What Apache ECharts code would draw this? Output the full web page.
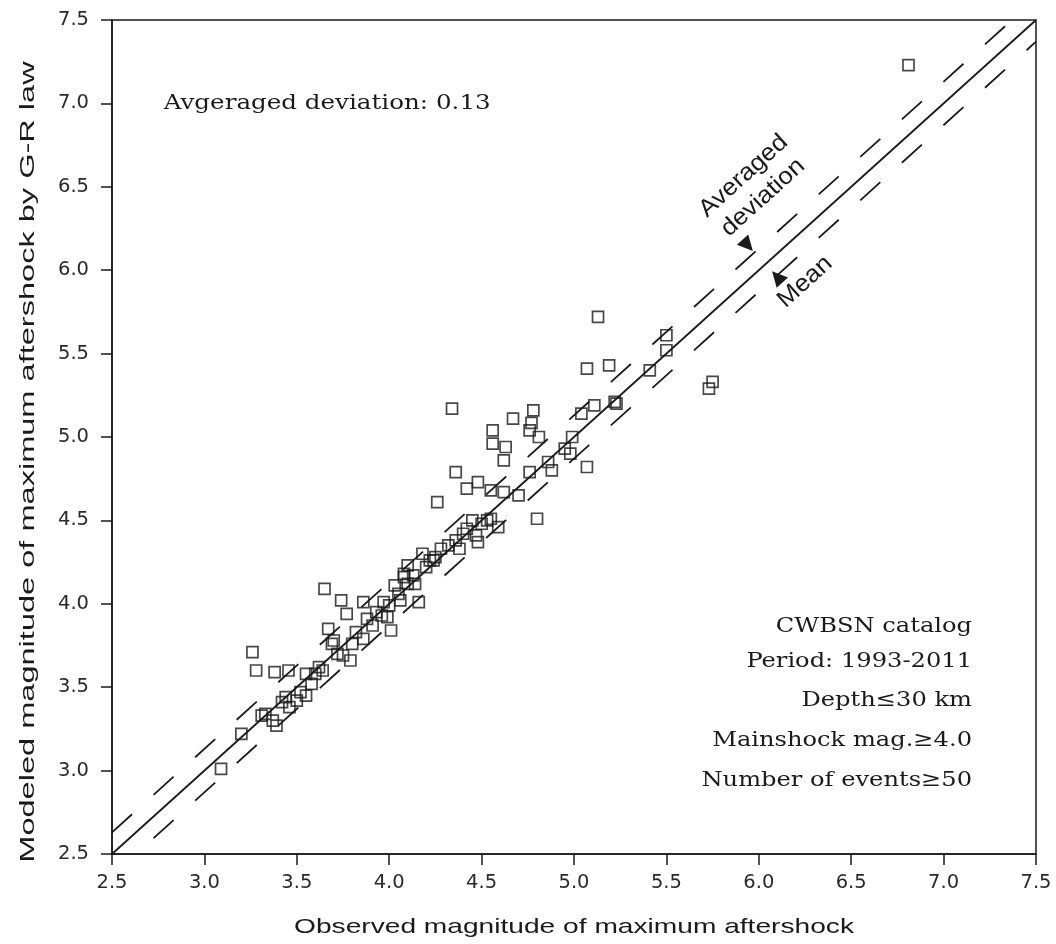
<!DOCTYPE html>
<html>
<head>
<meta charset="utf-8">
<script src="https://cdn.jsdelivr.net/npm/echarts@6/dist/echarts.min.js"></script>
<style>
html,body{margin:0;padding:0;background:#fff;}
#chart{width:1056px;height:944px;}
</style>
</head>
<body>
<div id="chart"></div>
<script>
// Observed magnitude of maximum aftershock (x)
const observed = [6.81,5.13,5.50,5.50,5.07,5.19,5.41,5.75,5.73,5.22,5.23,5.11,5.04,4.99,4.98,5.07,4.88,4.76,4.80,
  4.34,4.67,4.78,4.77,4.76,4.81,4.56,4.56,4.63,4.62,4.36,4.48,4.42,4.26,4.55,4.62,4.59,4.53,4.45,4.55,4.48,4.42,
  4.32,4.24,4.18,4.10,4.08,4.10,4.14,4.16,4.03,3.97,4.01,3.99,3.91,3.86,3.86,3.74,3.77,3.65,3.67,3.70,3.75,3.79,
  3.69,3.64,3.55,3.58,3.455,3.38,3.28,3.26,3.42,3.50,3.55,3.46,3.31,3.37,3.39,3.20,3.09,4.22,4.08,4.36,4.28,4.25,
  4.47,4.50,4.40,4.38,4.20,4.13,4.05,3.96,3.93,3.82,3.80,3.72,3.62,3.60,3.52,3.44,3.33,4.70,4.86,4.95,4.00,4.06,3.88];
// Modeled magnitude of maximum aftershock by G-R law (y)
const modeled = [7.23,5.72,5.61,5.52,5.41,5.43,5.40,5.33,5.29,5.21,5.20,5.19,5.14,5.00,4.90,4.82,4.80,4.79,4.51,
  5.17,5.11,5.16,5.085,5.04,5.00,5.04,4.96,4.94,4.86,4.79,4.73,4.69,4.61,4.68,4.67,4.46,4.50,4.50,4.51,4.37,4.45,
  4.35,4.26,4.30,4.23,4.16,4.12,4.12,4.01,4.11,4.01,3.84,3.92,3.87,3.79,4.01,4.02,3.94,4.09,3.85,3.78,3.69,3.66,
  3.76,3.60,3.58,3.52,3.60,3.59,3.60,3.71,3.41,3.42,3.45,3.38,3.33,3.30,3.27,3.22,3.01,4.26,4.18,4.38,4.33,4.28,
  4.41,4.48,4.42,4.33,4.22,4.17,4.06,3.93,3.95,3.83,3.76,3.70,3.62,3.58,3.47,3.44,3.34,4.65,4.85,4.93,3.99,4.02,3.91];
const lineRange = [2.5, 7.5];
const avgDeviation = 0.13;
const ticks = ['2.5','3.0','3.5','4.0','4.5','5.0','5.5','6.0','6.5','7.0','7.5'];
const infoLines = ['CWBSN catalog','Period: 1993-2011','Depth\u226430 km','Mainshock mag.\u22654.0','Number of events\u226550'];
const topNote = 'Avgeraged deviation: 0.13';
const xTitle = 'Observed magnitude of maximum aftershock';
const yTitle = 'Modeled magnitude of maximum aftershock by G-R law';

const points = observed.map((v, i) => [v, modeled[i]]);
const meanLine = lineRange.map(v => [v, v]);
const upperLine = lineRange.map(v => [v, v + avgDeviation]);
const lowerLine = lineRange.map(v => [v, v - avgDeviation]);

const chart = echarts.init(document.getElementById('chart'), null, {renderer: 'canvas'});
const ink = '#1a1a1a';
const sans = '"Liberation Sans", Arial, sans-serif';
const serif = '"DejaVu Serif", serif';

const axisCommon = {
  type: 'value', min: 2.5, max: 7.5, interval: 0.5,
  axisLine: {show: true, lineStyle: {color: ink, width: 1.5}},
  axisTick: {show: true, inside: false, length: 11, lineStyle: {color: ink, width: 1.5}},
  splitLine: {show: false},
};

chart.setOption({
  animation: false,
  backgroundColor: '#fff',
  grid: {left: 112, right: 20, top: 20, bottom: 90, show: true, borderColor: ink, borderWidth: 1.5, backgroundColor: 'transparent'},
  xAxis: Object.assign({}, axisCommon, {
    axisLabel: {margin: 19, fontFamily: 'DejaVu Sans', fontSize: 19.5, color: '#2a2a2a', formatter: v => ticks[Math.round((v - 2.5) / 0.5)]}
  }),
  yAxis: Object.assign({}, axisCommon, {
    axisLabel: {margin: 23, fontFamily: 'DejaVu Sans', fontSize: 19.5, color: '#2a2a2a', formatter: v => ticks[Math.round((v - 2.5) / 0.5)]}
  }),
  series: [
    {type: 'line', data: meanLine, symbol: 'none', clip: true, silent: true,
      lineStyle: {color: ink, width: 1.8}},
    {type: 'line', data: upperLine, symbol: 'none', clip: true, silent: true,
      lineStyle: {color: ink, width: 1.8, type: [27, 29]}},
    {type: 'line', data: lowerLine, symbol: 'none', clip: true, silent: true,
      lineStyle: {color: ink, width: 1.8, type: [27, 29]}},
    {type: 'scatter', data: points, symbol: 'rect', symbolSize: 11,
      itemStyle: {color: 'rgba(255,255,255,0)', borderColor: ink, borderWidth: 1.7}}
  ]
});

const ang = Math.atan2(166.8, 184.6);
function px(d) { return chart.convertToPixel({gridIndex: 0}, d); }
const pAvg = px([5.97, 6.50]);
const pTriDown = px([5.94, 6.15]);
const pMean = px([6.25, 5.93]);
const pTriUp = px([6.10, 5.96]);
const pNote = px([2.78, 7.0]);
const gridRect = chart.getModel().getComponent('grid').coordinateSystem.getRect();

const graphics = [
  {type: 'text', x: gridRect.x + gridRect.width / 2, y: 927, scaleX: 1.34,
    style: {text: xTitle, font: '21px ' + sans, fill: ink, align: 'center', verticalAlign: 'middle'}},
  {type: 'text', x: 28, y: gridRect.y + gridRect.height / 2 + 25, rotation: Math.PI / 2, scaleX: 1.55,
    style: {text: yTitle, font: '21px ' + sans, fill: ink, align: 'center', verticalAlign: 'middle'}},
  {type: 'text', x: pAvg[0], y: pAvg[1], rotation: ang, scaleX: 1.08,
    style: {text: 'Averaged\ndeviation', font: '24px ' + sans, fill: ink, align: 'center', verticalAlign: 'middle', lineHeight: 29}},
  {type: 'text', x: pTriDown[0], y: pTriDown[1], rotation: ang,
    style: {text: '\u25BC', font: '20px "DejaVu Sans"', fill: ink, align: 'center', verticalAlign: 'middle'}},
  {type: 'text', x: pMean[0], y: pMean[1], rotation: ang, scaleX: 1.08,
    style: {text: 'Mean', font: '24px ' + sans, fill: ink, align: 'center', verticalAlign: 'middle'}},
  {type: 'text', x: pTriUp[0], y: pTriUp[1], rotation: ang,
    style: {text: '\u25B2', font: '20px "DejaVu Sans"', fill: ink, align: 'center', verticalAlign: 'middle'}},
  {type: 'text', x: pNote[0], y: pNote[1], scaleX: 1.17,
    style: {text: topNote, font: '21px ' + serif, fill: ink, align: 'left', verticalAlign: 'middle'}}
];
infoLines.forEach((t, i) => {
  graphics.push({type: 'text', x: 972, y: [627, 662, 701, 741, 781][i], scaleX: 1.15,
    style: {text: t, font: '21px ' + serif, fill: ink, align: 'right', verticalAlign: 'middle'}});
});
chart.setOption({graphic: graphics});
</script>
</body>
</html>
